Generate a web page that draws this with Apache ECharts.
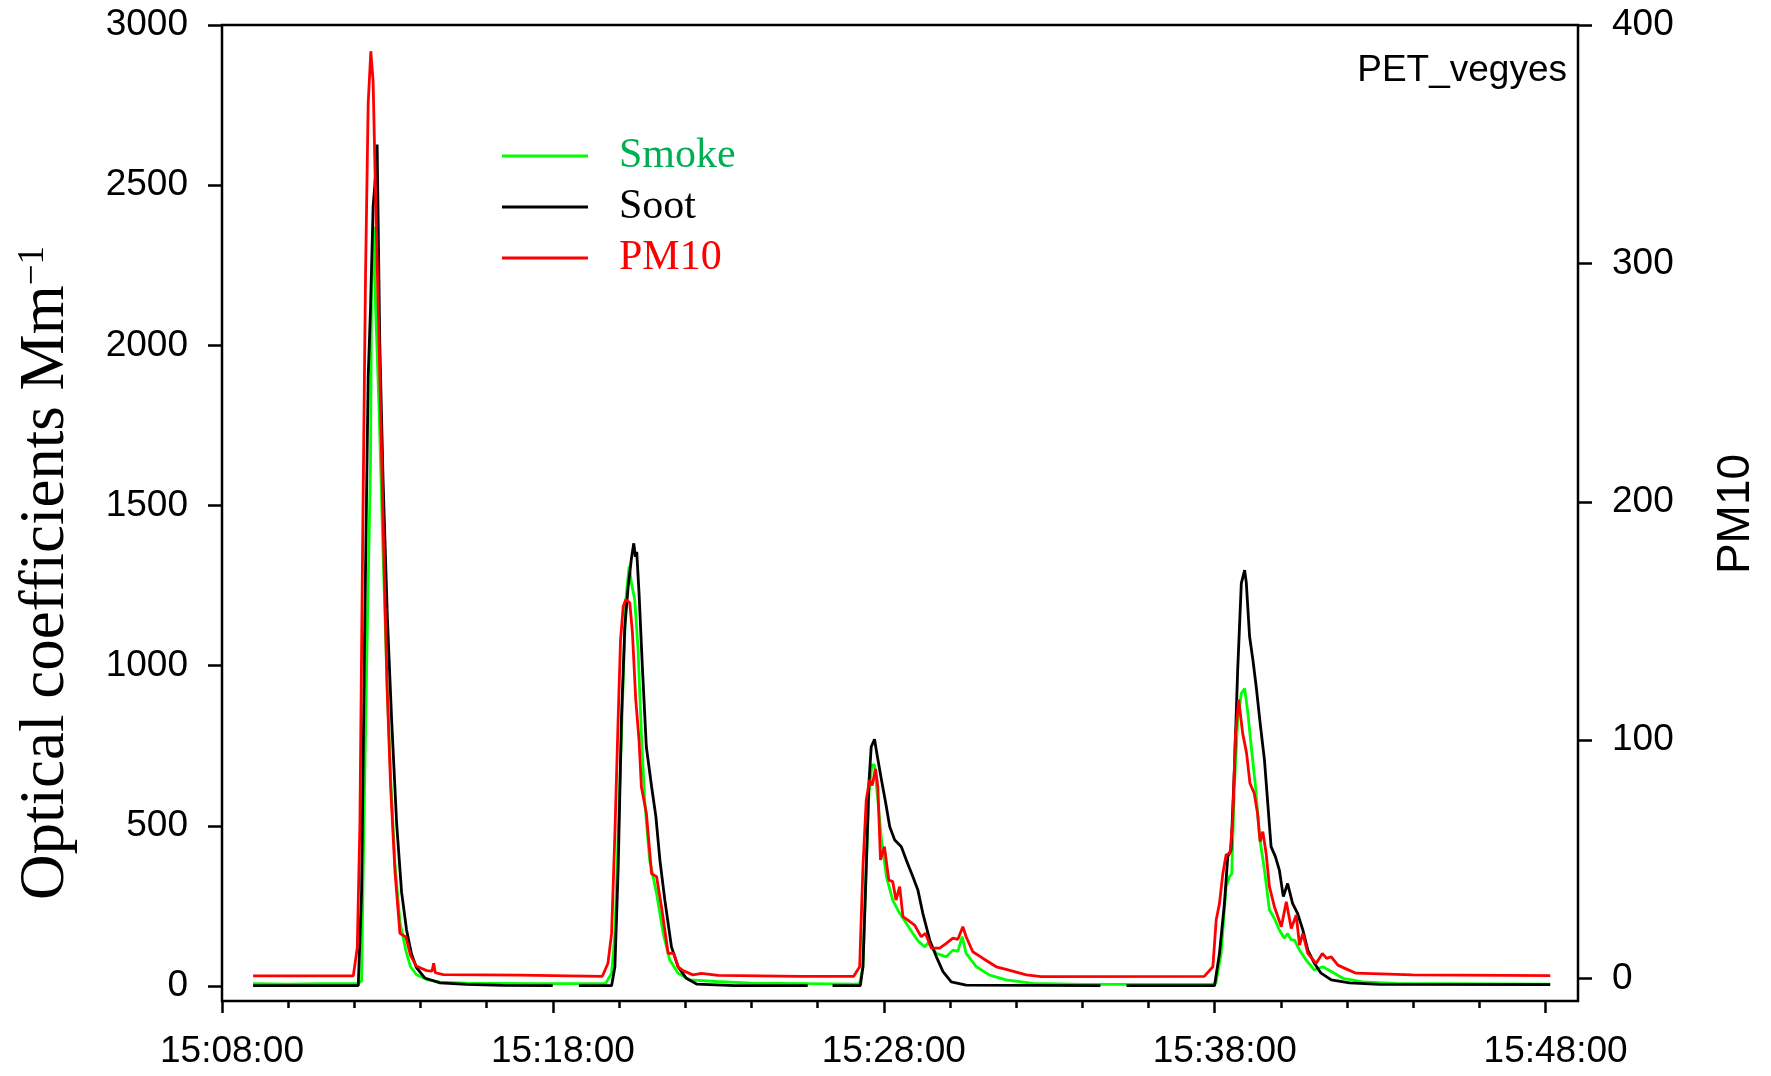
<!DOCTYPE html>
<html lang="en">
<head>
  <meta charset="UTF-8">
  <title>PET_vegyes</title>
  <style>
    html, body { margin: 0; padding: 0; background: #fff; }
    #chart { width: 1771px; height: 1076px; }
  </style>
</head>
<body>
<div id="chart"></div>
<script src="https://cdn.jsdelivr.net/npm/echarts@6.0.0/dist/echarts.min.js"></script>
<script>
  // time in minutes after 15:08:00
  const smokeTime = [0.94, 2.0, 3.0, 4.1, 4.22, 4.29, 4.40, 4.49, 4.52, 4.59, 4.65, 4.75, 4.87, 4.99, 5.10, 5.23, 5.38, 5.56, 5.70, 5.88, 6.19, 6.6, 7.4, 9.5, 11.6,
    11.78, 11.88, 11.98, 12.08, 12.21, 12.31, 12.38, 12.48, 12.58, 12.68, 12.78, 12.93, 13.14, 13.34, 13.54, 13.79, 14.14, 14.95, 16.0, 19.2,
    19.28, 19.38, 19.48, 19.56, 19.65, 19.73, 19.83, 19.94, 20.09, 20.28, 20.49, 20.69, 20.89, 21.05, 21.25, 21.35, 21.60, 21.90, 22.10, 22.25, 22.38, 22.50, 22.81, 23.21, 23.71, 24.51, 26.0, 29.9,
    30.05, 30.21, 30.36, 30.46, 30.53, 30.61, 30.71, 30.82, 30.92, 31.02, 31.12, 31.25, 31.37, 31.52, 31.67, 31.82, 31.97, 32.12, 32.22, 32.32, 32.43, 32.58, 32.78, 33.03, 33.28, 33.54, 33.89, 34.49, 35.5, 40.16];
  const smokeValue = [7, 6, 7, 7, 15, 508, 1150, 1621, 2156, 2370, 2100, 1800, 1350, 950, 650, 380, 200, 110, 60, 35, 20, 12, 9, 7, 8,
    40, 164, 477, 789, 1205, 1310, 1258, 1205, 1049, 789, 580, 393, 289, 164, 81, 40, 19, 14, 9, 6,
    8, 60, 372, 600, 690, 690, 580, 456, 341, 268, 227, 196, 164, 140, 122, 135, 102, 91, 112, 108, 154, 102, 60, 34, 19, 8, 5, 5,
    8, 102, 310, 341, 350, 622, 830, 913, 929, 851, 747, 622, 466, 362, 237, 211, 175, 149, 164, 145, 143, 112, 81, 50, 60, 45, 24, 13, 8, 6];

  const sootTime = [0.94, 4.12, 4.22, 4.32, 4.42, 4.49, 4.57, 4.62, 4.66, 4.69, 4.72, 4.77, 4.87, 5.0, 5.13, 5.28, 5.43, 5.58, 5.73, 5.88, 6.13, 6.59, 7.39, 8.5, 10.0, 10.4, 10.79,
    11.78, 11.88, 11.98, 12.08, 12.18, 12.28, 12.38, 12.45, 12.50, 12.54, 12.61, 12.71, 12.83, 12.99, 13.12, 13.24, 13.39, 13.59, 13.79, 14.04, 14.35, 15.5, 17.71, 18.1, 18.46,
    19.3, 19.38, 19.48, 19.56, 19.63, 19.73, 19.80, 19.94, 20.07, 20.19, 20.34, 20.54, 20.69, 20.89, 21.04, 21.19, 21.40, 21.60, 21.80, 22.05, 22.5, 26.56, 27.0, 27.35,
    30.01, 30.16, 30.31, 30.41, 30.51, 30.61, 30.71, 30.82, 30.92, 30.97, 31.07, 31.17, 31.27, 31.39, 31.52, 31.62, 31.72, 31.85, 31.97, 32.09, 32.22, 32.37, 32.52, 32.68, 32.83, 33.03, 33.23, 33.54, 34.09, 35.0, 40.16];
  const sootValue = [1, 1, 293, 1150, 1900, 2114, 2435, 2500, 2560, 2627, 2400, 2007, 1579, 1150, 829, 508, 293, 175, 100, 57, 25, 10, 5, 2, 1, null, 1,
    1, 60, 372, 840, 1121, 1246, 1335, 1382, 1340, 1355, 1226, 997, 747, 622, 528, 393, 268, 122, 60, 24, 6, 1, 1, null, 1,
    1, 60, 372, 633, 747, 770, 726, 643, 570, 497, 456, 435, 393, 341, 300, 227, 143, 91, 45, 13, 3, 1, null, 1,
    1, 102, 258, 404, 425, 674, 986, 1257, 1298, 1260, 1091, 1018, 935, 820, 705, 570, 435, 404, 362, 279, 320, 258, 227, 175, 112, 71, 40, 19, 10, 5, 4];

  const pm10Time = [0.94, 3.97, 4.09, 4.17, 4.25, 4.34, 4.42, 4.50, 4.57, 4.65, 4.75, 4.87, 4.99, 5.10, 5.23, 5.38, 5.56, 5.70, 5.88, 6.19, 6.35, 6.40, 6.45, 6.69, 9.0, 11.5,
    11.67, 11.78, 11.88, 11.98, 12.05, 12.13, 12.21, 12.33, 12.41, 12.51, 12.61, 12.68, 12.83, 12.99, 13.14, 13.29, 13.49, 13.66, 13.79, 13.94, 14.24, 14.5, 15.0, 17.5, 19.1,
    19.28, 19.38, 19.48, 19.58, 19.66, 19.76, 19.83, 19.91, 20.03, 20.16, 20.28, 20.38, 20.49, 20.59, 20.74, 20.94, 21.14, 21.27, 21.45, 21.70, 21.90, 22.10, 22.25, 22.40, 22.50, 22.70, 23.00, 23.41, 23.71, 24.32, 24.77, 29.7,
    29.96, 30.06, 30.16, 30.26, 30.36, 30.48, 30.56, 30.64, 30.74, 30.86, 30.98, 31.08, 31.21, 31.31, 31.39, 31.47, 31.57, 31.67, 31.82, 32.03, 32.18, 32.33, 32.48, 32.58, 32.68, 32.83, 33.08, 33.27, 33.4, 33.54, 33.74, 34.07, 34.29, 36.0, 40.16];
  const pm10Value = [1.2, 1.2, 13, 65, 180, 295, 367, 389, 376, 324, 267, 192, 123, 80, 45, 19, 17.5, 9.8, 5.2, 3.4, 3.2, 6.5, 2.5, 1.7, 1.5, 1.0,
    6.5, 19, 61, 110, 142, 156, 159, 157.6, 145, 117, 100, 80.5, 69.5, 44, 42.8, 30, 10.6, 10.6, 5, 3.4, 1.6, 2.2, 1.4, 1.0, 1.0,
    5, 47, 75, 83.3, 81, 88, 80.5, 49.8, 55.4, 41.4, 40.7, 33, 38.6, 26, 24.6, 22.5, 17.6, 19, 12.8, 12.8, 14.8, 17, 16.5, 21.8, 17.6, 11.3, 8.6, 5, 3.9, 1.6, 0.9, 1.0,
    5, 24.6, 31.6, 44, 52, 52.6, 66.6, 101.5, 117, 103, 94.5, 82, 77.8, 69.4, 57.5, 61.7, 52.6, 38.6, 30.2, 21.8, 32.3, 21.1, 26.7, 14.1, 19, 10.6, 6.4, 10.6, 8.5, 9.2, 5.7, 3.6, 2.3, 1.6, 1.3];

  const leftTicks = { min: 0, max: 3000, step: 500 };
  const rightTicks = { min: 0, max: 400, step: 100 };
  const timeTicks = { min: 0, max: 40, step: 10 };

  const sans = "'Liberation Sans', Arial, sans-serif";
  const serif = "'Liberation Serif', 'Times New Roman', serif";

  function pairs(ts, vs) {
    return ts.map((t, i) => [t, vs[i] === null ? '-' : vs[i]]);
  }

  function clock(v) {
    const total = 8 + v;
    const h = 15 + Math.floor(total / 60);
    const m = Math.round(total % 60);
    return h + ':' + String(m).padStart(2, '0') + ':00';
  }

  const myChart = echarts.init(document.getElementById('chart'));

  // axes that only carry a scale, nothing drawn
  const off = { show: false, onZero: false };
  const hiddenX = (gi, max) => ({ type: 'value', gridIndex: gi, min: 0, max: max, show: false,
    axisLine: off, axisTick: off, axisLabel: off, minorTick: off, splitLine: off });
  const hiddenY = (gi, pos) => ({ type: 'value', gridIndex: gi, position: pos, min: 0, max: 1, show: false,
    axisLine: off, axisTick: off, axisLabel: off, minorTick: off, splitLine: off });

  const option = {
    animation: false,
    backgroundColor: '#fff',
    grid: [
      // frame
      { left: 222, top: 25, width: 1356, height: 976, show: true, borderColor: '#000', borderWidth: 2.5, backgroundColor: 'transparent' },
      // left scale (0 at y=986)
      { left: 222, top: 25, width: 1356, height: 961 },
      // right scale (0 at y=978.7)
      { left: 222, top: 25, width: 1356, height: 953.7 },
      // time ticks 15:08 - 15:48
      { left: 222, top: 25, width: 1323.6, height: 976 }
    ],
    xAxis: [
      hiddenX(0, 41),
      hiddenX(1, 41),
      hiddenX(2, 41),
      {
        type: 'value', gridIndex: 3, position: 'bottom',
        min: timeTicks.min, max: timeTicks.max, interval: timeTicks.step,
        axisLine: { show: false, onZero: false },
        axisTick: { show: true, length: 12, lineStyle: { color: '#000', width: 2.5 } },
        minorTick: { show: true, splitNumber: 5, length: 7, lineStyle: { color: '#000', width: 2.5 } },
        splitLine: { show: false },
        minorSplitLine: { show: false },
        axisLabel: { formatter: clock, fontSize: 37, fontFamily: sans, color: '#000', margin: 32, padding: [0, 0, 0, 20] }
      }
    ],
    yAxis: [
      hiddenY(0, 'left'),
      {
        type: 'value', gridIndex: 1, position: 'left',
        min: leftTicks.min, max: leftTicks.max, interval: leftTicks.step,
        axisLine: { show: false, onZero: false },
        axisTick: { show: true, inside: false, length: 14, lineStyle: { color: '#000', width: 2.5 } },
        minorTick: { show: false },
        splitLine: { show: false },
        axisLabel: { formatter: (v) => String(v), fontSize: 37, fontFamily: sans, color: '#000', margin: 34 }
      },
      {
        type: 'value', gridIndex: 2, position: 'right',
        min: rightTicks.min, max: rightTicks.max, interval: rightTicks.step,
        axisLine: { show: false, onZero: false },
        axisTick: { show: true, inside: false, length: 14, lineStyle: { color: '#000', width: 2.5 } },
        minorTick: { show: false },
        splitLine: { show: false },
        axisLabel: { formatter: (v) => String(v), fontSize: 37, fontFamily: sans, color: '#000', margin: 34 }
      },
      hiddenY(3, 'left')
    ],
    legend: {
      orient: 'vertical',
      left: 502,
      top: 134,
      padding: 0,
      itemGap: 7,
      itemWidth: 86,
      itemHeight: 3,
      icon: 'rect',
      textStyle: { fontSize: 42, fontFamily: serif, lineHeight: 44, padding: [0, 0, 0, 26] },
      data: [
        { name: 'Smoke', textStyle: { color: '#00b050' } },
        { name: 'Soot', textStyle: { color: '#000' } },
        { name: 'PM10', textStyle: { color: '#ff0000' } }
      ]
    },
    graphic: [
      {
        type: 'text', x: 46, y: 573, rotation: Math.PI / 2,
        style: {
          text: '{m|Optical coefficients Mm}{s|\u22121}',
          rich: {
            m: { fontSize: 63, fontFamily: serif, fill: '#000', color: '#000' },
            s: { fontSize: 37, fontFamily: serif, fill: '#000', color: '#000', verticalAlign: 'top' }
          },
          align: 'center', verticalAlign: 'middle',
          textAlign: 'center', textVerticalAlign: 'middle'
        }
      },
      {
        type: 'text', x: 1736, y: 514, rotation: Math.PI / 2,
        style: {
          text: 'PM10', fontSize: 46, fontFamily: sans, fill: '#000',
          align: 'center', verticalAlign: 'middle',
          textAlign: 'center', textVerticalAlign: 'middle'
        }
      },
      {
        type: 'text', x: 1567, y: 71,
        style: {
          text: 'PET_vegyes', fontSize: 37, fontFamily: sans, fill: '#000',
          align: 'right', verticalAlign: 'middle',
          textAlign: 'right', textVerticalAlign: 'middle'
        }
      }
    ],
    series: [
      {
        name: 'Smoke', type: 'line', xAxisIndex: 1, yAxisIndex: 1,
        data: pairs(smokeTime, smokeValue),
        symbol: 'none', clip: false, color: '#00ff00',
        lineStyle: { width: 2.8, color: '#00ff00' }
      },
      {
        name: 'Soot', type: 'line', xAxisIndex: 1, yAxisIndex: 1,
        data: pairs(sootTime, sootValue),
        symbol: 'none', clip: false, connectNulls: false, color: '#000',
        lineStyle: { width: 2.8, color: '#000' }
      },
      {
        name: 'PM10', type: 'line', xAxisIndex: 2, yAxisIndex: 2,
        data: pairs(pm10Time, pm10Value),
        symbol: 'none', clip: false, color: '#ff0000',
        lineStyle: { width: 2.8, color: '#ff0000' }
      }
    ]
  };

  myChart.setOption(option);
</script>
</body>
</html>
